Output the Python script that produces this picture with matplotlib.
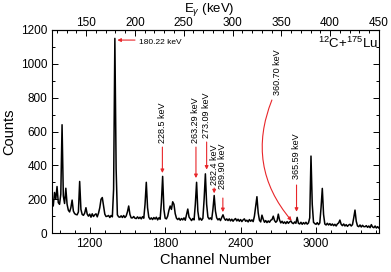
import matplotlib
matplotlib.use('Agg')
import matplotlib.pyplot as plt
import numpy as np
from matplotlib.ticker import MultipleLocator

plt.rcParams['font.family'] = ['Liberation Sans', 'DejaVu Sans']
plt.rcParams['mathtext.fontset'] = 'custom'
plt.rcParams['mathtext.rm'] = 'Liberation Sans'
plt.rcParams['mathtext.it'] = 'Liberation Sans:italic'

# spectrum, one value every 10 channels from 900 to 3500
ch_start = 900
ch_step = 10
counts = [
    190, 160, 240, 200, 275, 180, 170, 230, 640, 220,   # 900
    175, 265, 170, 135, 125, 150, 195, 130, 115, 110,   # 1000
    108, 125, 305, 140, 110, 105, 118, 150, 112, 100,   # 1100
    112, 94, 114, 98, 108, 114, 96, 118, 150, 200,      # 1200
    210, 160, 112, 98, 100, 104, 92, 104, 96, 260,      # 1300
    1150, 380, 108, 96, 94, 102, 92, 104, 92, 101,      # 1400
    125, 160, 110, 90, 90, 98, 88, 86, 96, 86,          # 1500
    94, 84, 97, 88, 170, 300, 150, 94, 82, 90,          # 1600
    80, 92, 83, 94, 78, 90, 82, 180, 335, 140,          # 1700
    88, 84, 100, 135, 160, 140, 185, 170, 115, 88,      # 1800
    80, 88, 76, 86, 78, 90, 76, 110, 142, 95,           # 1900
    84, 74, 86, 78, 170, 300, 130, 78, 88, 76,          # 2000
    87, 200, 350, 170, 95, 83, 90, 80, 140, 222,        # 2100
    130, 90, 78, 86, 74, 92, 108, 87, 76, 84,           # 2200
    74, 84, 72, 82, 70, 80, 86, 72, 82, 70,             # 2300
    80, 68, 78, 84, 70, 76, 66, 80, 70, 78,             # 2400
    68, 100, 160, 215, 120, 76, 66, 106, 82, 64,        # 2500
    74, 62, 72, 64, 76, 80, 100, 74, 64, 72,            # 2600
    112, 77, 60, 70, 58, 66, 56, 68, 58, 66,            # 2700
    72, 60, 56, 66, 58, 93, 58, 54, 64, 52,             # 2800
    62, 54, 64, 53, 60, 90, 455, 170, 64, 56,           # 2900
    52, 62, 50, 60, 150, 264, 110, 54, 48, 58,          # 3000
    48, 56, 46, 54, 44, 52, 42, 54, 60, 77,             # 3100
    52, 44, 54, 42, 50, 40, 48, 52, 42, 50,             # 3200
    90, 136, 70, 42, 38, 48, 36, 46, 38, 38,            # 3300
    44, 34, 42, 32, 50, 36, 32, 42, 30, 38,             # 3400
    30,
]
channels = ch_start + ch_step * np.arange(len(counts))

# energy calibration of the top axis
e_at_start = 115.0
kev_per_ch = 0.12885

# straight arrows: label, channel, text bottom, arrow tail, arrow tip
line_labels = ['228.5 keV', '263.29 keV', '273.09 keV', '282.4 keV', '289.90 keV', '365.59 keV']
line_ch = [1778, 2045, 2130, 2190, 2259, 2845]
text_y = [532, 532, 561, 284, 260, 317]
tail_y = [508, 508, 538, 266, 207, 284]
tip_y = [355, 325, 375, 235, 124, 126]

red = '#e8262a'


def ch2e(x):
    return e_at_start + (np.asarray(x) - ch_start) * kev_per_ch


def e2ch(e):
    return ch_start + (np.asarray(e) - e_at_start) / kev_per_ch


fig = plt.figure(figsize=(3.91, 2.72), dpi=100)
ax = fig.add_axes([0.133, 0.143, 0.836, 0.747])

ax.plot(channels, counts, color='black', lw=1.1)

ax.set_xlim(900, 3500)
ax.set_ylim(0, 1200)
ax.set_xticks([1200, 1800, 2400, 3000])
ax.xaxis.set_minor_locator(MultipleLocator(120))
ax.set_yticks(np.arange(0, 1201, 200))
ax.yaxis.set_minor_locator(MultipleLocator(100))
ax.tick_params(which='both', direction='in', right=True, labelsize=8.5, width=0.7)
ax.tick_params(which='major', length=4)
ax.tick_params(which='minor', length=2)
ax.set_xlabel('Channel Number', fontsize=10.5, labelpad=2)
ax.set_ylabel('Counts', fontsize=10.5, labelpad=3)

sec = ax.secondary_xaxis('top', functions=(ch2e, e2ch))
sec.set_xticks([150, 200, 250, 300, 350, 400, 450])
sec.xaxis.set_minor_locator(MultipleLocator(10))
sec.tick_params(which='both', direction='in', labelsize=8.5, width=0.7, pad=1)
sec.tick_params(which='major', length=4)
sec.tick_params(which='minor', length=2)
sec.set_xlabel(r'E$_{\gamma}$ (keV)', fontsize=9.5, labelpad=3, x=0.48)

for sp in ax.spines.values():
    sp.set_linewidth(0.8)

# 180.22 keV, arrow pointing left
ax.annotate('', xy=(1420, 1140), xytext=(1560, 1140),
            arrowprops=dict(arrowstyle='-|>', color=red, lw=0.8,
                            mutation_scale=5, shrinkA=0, shrinkB=0))
ax.text(1592, 1123, '180.22 keV', fontsize=6, va='center', ha='left')

for lab, x, ty, y0, y1 in zip(line_labels, line_ch, text_y, tail_y, tip_y):
    ax.annotate('', xy=(x, y1), xytext=(x, y0),
                arrowprops=dict(arrowstyle='-|>', color=red, lw=0.8,
                                mutation_scale=5, shrinkA=0, shrinkB=0))
    ax.text(x, ty, lab, fontsize=6.5, rotation=90, ha='center', va='bottom')

# 360.70 keV, curved arrow
ax.annotate('', xy=(2806, 73), xytext=(2649, 786),
            arrowprops=dict(arrowstyle='-|>', color=red, lw=0.8,
                            mutation_scale=5, shrinkA=0, shrinkB=0,
                            connectionstyle='arc3,rad=0.3'))
ax.text(2691, 816, '360.70 keV', fontsize=6.5, rotation=90, ha='center', va='bottom')

ax.text(3015, 1123, r'$^{12}$C+$^{175}$Lu', fontsize=9.5, ha='left', va='center')

fig.savefig('out.png', dpi=100)
